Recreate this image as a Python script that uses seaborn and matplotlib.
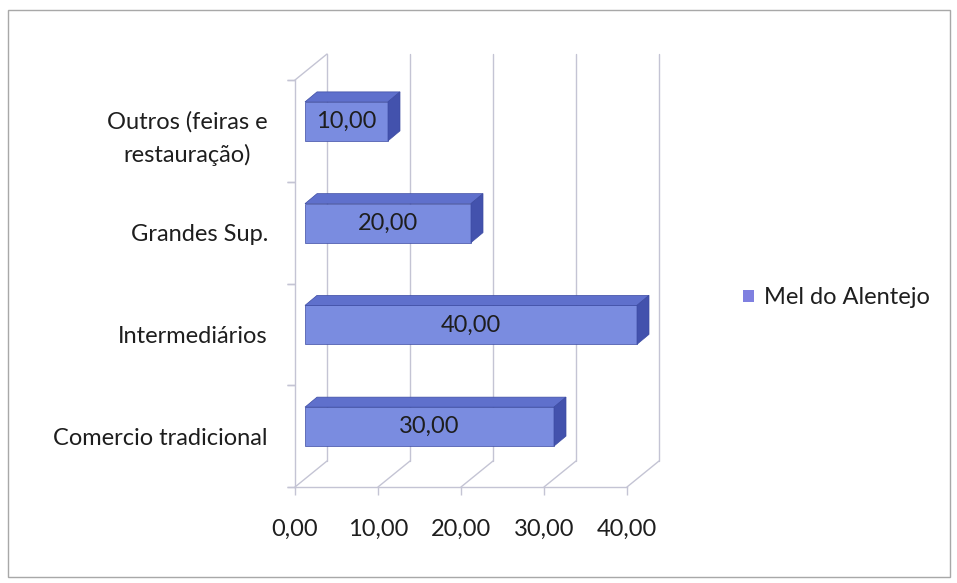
import matplotlib
matplotlib.use("Agg")
import matplotlib.pyplot as plt
import seaborn as sns
import pandas as pd
from matplotlib.transforms import ScaledTranslation
from matplotlib.patches import Polygon, Rectangle, Patch
from matplotlib.lines import Line2D

# ---- data ----
categories = ["Outros (feiras e\nrestauração)", "Grandes Sup.", "Intermediários", "Comercio tradicional"]
values = [10.0, 20.0, 40.0, 30.0]
series_name = "Mel do Alentejo"
x_ticks = [0, 10, 20, 30, 40]
x_tick_labels = ["0,00", "10,00", "20,00", "30,00", "40,00"]

df = pd.DataFrame({"canal": categories, "valor": values})

sns.set_theme(style="white")
plt.rcParams["font.family"] = ["Lato", "DejaVu Sans"]

FRONT = "#7a8ce0"
TOP = "#5f70cc"
SIDE = "#4352ad"
EDGE = "#3d4ca3"
GRID = "#c4c4d4"
TEXT = "#1e1e1e"
FS = 17

W, H = 957, 583
fig = plt.figure(figsize=(W / 100, H / 100), dpi=100)
fig.patch.set_facecolor("white")
fig.add_artist(Rectangle((8 / W, 6 / H), 942 / W, 567 / H, transform=fig.transFigure,
                         fill=False, edgecolor="#a8a8a8", linewidth=1.0))

ax = fig.add_axes([295 / W, 1 - 487 / H, 332 / W, 407 / H])
ax.set_facecolor("none")

sns.barplot(data=df, y="canal", x="valor", orient="h", width=0.383, color=FRONT,
            saturation=1, edgecolor=EDGE, linewidth=0.5, ax=ax, zorder=4)
ax.set_xlim(0, 40)
ax.set_ylim(3.5, -0.5)


def px(dx, dy):
    return ScaledTranslation(dx / 100, dy / 100, fig.dpi_scale_trans)


# depth of the back wall (pixels) and in data units
BX, BY = 32, 26
sx = 332 / 40.0
sy = 407 / 4.0
bdx, bdy = BX / sx, BY / sy

# back-wall gridlines
for v in x_ticks:
    ax.add_line(Line2D([v, v], [3.5, -0.5], transform=ax.transData + px(BX, BY),
                       color=GRID, lw=1.0, clip_on=False, zorder=1))
    # floor diagonals
    ax.add_line(Line2D([v, v + bdx], [3.5, 3.5 - bdy], color=GRID, lw=1.0,
                       clip_on=False, zorder=1))
# left wall top diagonal
ax.add_line(Line2D([0, bdx], [-0.5, -0.5 - bdy], color=GRID, lw=1.0, clip_on=False, zorder=1))

# bars: shift to mid depth and add 3D faces
OX, OY = 10, 9.5
DX, DY = 12, 10
ddx, ddy = DX / sx, DY / sy
shift = ax.transData + px(OX, OY)
for p, v in zip(ax.patches, ax.containers[0].datavalues):
    p.set_transform(shift)
    p.set_clip_on(False)
    x0, y0, w, h = p.get_x(), p.get_y(), p.get_width(), p.get_height()
    top = Polygon([(x0, y0), (x0 + w, y0), (x0 + w + ddx, y0 - ddy), (x0 + ddx, y0 - ddy)],
                  closed=True, facecolor=TOP, edgecolor=EDGE, lw=0.5, transform=shift,
                  clip_on=False, zorder=4)
    side = Polygon([(x0 + w, y0), (x0 + w + ddx, y0 - ddy), (x0 + w + ddx, y0 + h - ddy), (x0 + w, y0 + h)],
                   closed=True, facecolor=SIDE, edgecolor=EDGE, lw=0.5, transform=shift,
                   clip_on=False, zorder=4)
    ax.add_patch(top)
    ax.add_patch(side)
    ax.text(x0 + w / 2, y0 + h / 2, f"{v:.2f}".replace(".", ","), transform=shift,
            ha="center", va="center", fontsize=FS, color=TEXT, zorder=6)

# axes lines
for s in ["top", "right"]:
    ax.spines[s].set_visible(False)
for s in ["left", "bottom"]:
    ax.spines[s].set_color(GRID)
    ax.spines[s].set_linewidth(1.0)

ax.set_xticks(x_ticks)
ax.set_xticklabels(x_tick_labels, fontsize=FS, color=TEXT)
ax.set_yticks([0, 1, 2, 3])
ax.set_yticklabels(categories, fontsize=FS, color=TEXT, multialignment="center", linespacing=1.6)
ax.tick_params(axis="x", length=6, width=1.0, color=GRID, pad=17, bottom=True)
ax.tick_params(axis="y", length=0, pad=19.5, left=True)
# separator ticks on the category axis
for yb in [-0.5, 0.5, 1.5, 2.5, 3.5]:
    ax.add_line(Line2D([0, 0], [yb, yb], transform=ax.transData, marker=0, markersize=6,
                       markeredgecolor=GRID, markeredgewidth=1.0, clip_on=False, zorder=1))
ax.set_xlabel("")
ax.set_ylabel("")
ax.grid(False)

fig.legend(handles=[Patch(facecolor="#7f80e0", edgecolor="none", label=series_name)],
           loc="center left", bbox_to_anchor=(722 / W, 1 - 298 / H), frameon=False,
           handlelength=0.45, handleheight=0.45, handletextpad=0.45, fontsize=FS,
           labelcolor=TEXT)

fig.savefig("out.png", dpi=100)
